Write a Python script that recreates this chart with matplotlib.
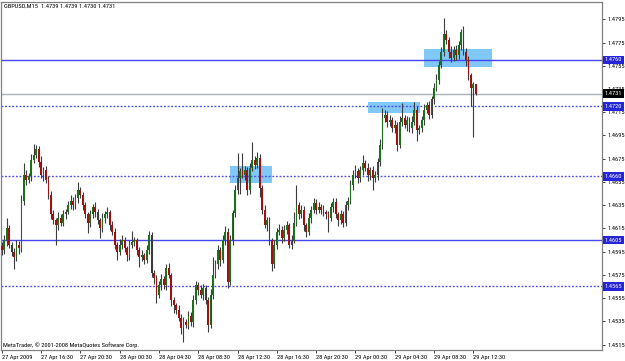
import numpy as np
import matplotlib
matplotlib.use('Agg')
import matplotlib.pyplot as plt
from matplotlib.patches import Rectangle
import matplotlib.transforms as mtransforms
from matplotlib import font_manager as fm

# ---------------- data (prices as pips above 1.4500) ----------------
BASE = 1.4500
open_pips = [
    100, 96, 105, 115, 101, 95, 90, 101, 98, 139,
    161, 157, 160, 174, 178, 183, 172, 161, 165, 157,
    144, 127, 122, 118, 124, 120, 127, 129, 135, 139,
    135, 141, 148, 144, 135, 127, 120, 127, 133, 129,
    122, 115, 124, 127, 129, 118, 112, 101, 95, 101,
    105, 98, 92, 101, 103, 105, 96, 90, 92, 88,
    96, 109, 77, 72, 58, 66, 71, 66, 81, 75,
    53, 49, 45, 38, 29, 34, 32, 40, 34, 53,
    66, 62, 58, 64, 53, 32, 58, 75, 84, 96,
    88, 105, 112, 69, 105, 128, 148, 158, 164, 161,
    165, 148, 167, 174, 170, 176, 150, 131, 118, 122,
    105, 84, 101, 112, 114, 107, 114, 118, 101, 105,
    120, 135, 127, 131, 118, 112, 124, 131, 137, 131,
    133, 131, 129, 127, 124, 133, 138, 127, 122, 127,
    120, 135, 139, 152, 161, 164, 158, 165, 171, 167,
    161, 165, 158, 161, 172, 187, 210, 213, 207, 208,
    201, 204, 187, 207, 210, 204, 208, 201, 207, 217,
    200, 201, 208, 217, 221, 213, 226, 236, 243, 256,
    267, 282, 277, 267, 262, 269, 264, 273, 284, 267,
    260, 247, 236, 239,
]
close_pips = [
    96, 105, 115, 101, 95, 90, 101, 98, 139, 161,
    157, 160, 174, 178, 183, 172, 161, 165, 157, 144,
    127, 122, 118, 124, 120, 127, 129, 135, 139, 135,
    141, 148, 144, 135, 127, 120, 127, 133, 129, 122,
    115, 124, 127, 129, 118, 112, 101, 95, 101, 105,
    98, 92, 101, 103, 105, 96, 90, 92, 88, 96,
    109, 77, 72, 58, 66, 71, 66, 81, 75, 53,
    49, 45, 38, 29, 34, 32, 40, 34, 53, 66,
    62, 58, 64, 53, 32, 58, 75, 84, 96, 88,
    105, 112, 69, 105, 128, 148, 158, 164, 161, 165,
    148, 167, 174, 170, 176, 150, 131, 118, 122, 105,
    84, 101, 112, 114, 107, 114, 118, 101, 105, 120,
    135, 127, 131, 118, 112, 124, 131, 137, 131, 133,
    131, 129, 127, 124, 133, 138, 127, 122, 127, 120,
    135, 139, 152, 161, 164, 158, 165, 171, 167, 161,
    165, 158, 161, 172, 187, 210, 213, 207, 208, 201,
    204, 187, 207, 210, 204, 208, 201, 207, 217, 200,
    201, 208, 217, 221, 213, 226, 236, 243, 256, 267,
    282, 277, 267, 262, 269, 264, 273, 284, 267, 260,
    247, 236, 239, 231,
]
upper_wick_pips = [
    3, 4, 9, 3, 2, 3, 4, 3, 5, 10,
    4, 3, 5, 10, 4, 3, 5, 3, 4, 3,
    3, 4, 2, 5, 3, 4, 3, 4, 5, 3,
    4, 7, 3, 2, 3, 2, 4, 3, 5, 3,
    2, 4, 3, 4, 2, 3, 3, 2, 5, 4,
    3, 2, 4, 10, 3, 2, 3, 4, 2, 5,
    4, 3, 2, 3, 4, 5, 3, 3, 4, 2,
    3, 2, 4, 3, 5, 3, 4, 3, 5, 4,
    3, 4, 3, 2, 3, 5, 15, 4, 5, 3,
    4, 5, 3, 4, 3, 4, 22, 3, 16, 4,
    3, 4, 15, 3, 5, 3, 2, 4, 3, 3,
    2, 4, 3, 5, 3, 4, 3, 2, 4, 9,
    17, 3, 4, 3, 2, 4, 3, 4, 3, 5,
    3, 4, 2, 3, 4, 3, 3, 2, 4, 3,
    4, 3, 5, 4, 6, 3, 4, 7, 3, 4,
    3, 4, 3, 4, 5, 9, 4, 3, 5, 3,
    4, 3, 5, 13, 3, 4, 3, 5, 7, 3,
    3, 4, 5, 3, 4, 3, 4, 5, 3, 4,
    14, 4, 3, 5, 3, 4, 3, 3, 5, 3,
    3, 2, 2, 0,
]
lower_wick_pips = [
    4, 3, 5, 3, 4, 10, 3, 5, 3, 4,
    5, 3, 4, 3, 2, 4, 3, 5, 3, 4,
    4, 3, 17, 4, 3, 3, 4, 2, 3, 4,
    3, 4, 3, 4, 3, 9, 4, 3, 4, 3,
    8, 3, 4, 3, 4, 3, 4, 7, 3, 4,
    3, 5, 4, 3, 3, 4, 8, 3, 4, 3,
    3, 4, 5, 7, 3, 4, 3, 4, 3, 5,
    7, 4, 3, 5, 12, 3, 4, 3, 4, 3,
    4, 3, 5, 3, 6, 3, 4, 3, 4, 5,
    3, 4, 5, 3, 4, 3, 3, 13, 3, 4,
    4, 3, 3, 4, 3, 8, 4, 3, 5, 4,
    6, 3, 4, 3, 5, 3, 4, 3, 4, 3,
    3, 4, 3, 5, 4, 3, 4, 3, 4, 3,
    4, 3, 4, 12, 3, 4, 3, 5, 3, 4,
    3, 4, 3, 4, 3, 4, 3, 4, 3, 5,
    4, 10, 3, 4, 3, 4, 3, 5, 4, 3,
    4, 5, 3, 4, 3, 5, 3, 4, 3, 10,
    4, 3, 4, 3, 4, 3, 4, 3, 4, 3,
    4, 3, 5, 4, 3, 4, 3, 4, 3, 5,
    4, 16, 42, 1,
]

time_labels = ["27 Apr 2009", "27 Apr 16:30", "27 Apr 20:30", "28 Apr 00:30",
               "28 Apr 04:30", "28 Apr 08:30", "28 Apr 12:30", "28 Apr 16:30",
               "28 Apr 20:30", "29 Apr 00:30", "29 Apr 04:30", "29 Apr 08:30",
               "29 Apr 12:30"]
time_label_bars = [0, 16, 32, 48, 64, 80, 96, 112, 128, 144, 160, 176, 192]
price_ticks = [1.4795, 1.4775, 1.4755, 1.4735, 1.4715, 1.4695, 1.4675, 1.4655,
               1.4635, 1.4615, 1.4595, 1.4575, 1.4555, 1.4535, 1.4515]
solid_levels = [1.4760, 1.4605]
dotted_levels = [1.4720, 1.4660, 1.4565]
last_price = 1.4731
# zones: (start bar, end bar, low price, high price)
zones = [(93.0, 110.0, 1.4654, 1.4669),
         (149.0, 170.4, 1.47144, 1.47238),
         (172.0, 199.6, 1.4754, 1.47695)]
header = "GBPUSD,M15  1.4739 1.4739 1.4730 1.4731"
footer = "MetaTrader, \u00a9 2001-2008 MetaQuotes Software Corp."

# ---------------- font choice (narrow face if available) ----------------
def pick_font():
    prefs = [('LiberationSansNarrow-Regular', 4.7),
             ('RobotoCondensed-Regular', 4.6),
             ('DejaVuSansCondensed.ttf', 4.2),
             ('NotoSans-Condensed.ttf', 4.6),
             ('OpenSans_Condensed-Regular', 4.6)]
    files = [f.fname for f in fm.fontManager.ttflist]
    for key, size in prefs:
        for fn in files:
            if key.lower() in fn.lower():
                return fm.FontProperties(fname=fn, size=size), size
    return fm.FontProperties(family='DejaVu Sans', size=3.75), 3.75

FP, FS = pick_font()

def fprop():
    return FP.copy()

# ---------------- derived ----------------
o = BASE + np.array(open_pips) / 1e4
c = BASE + np.array(close_pips) / 1e4
h = np.maximum(o, c) + np.array(upper_wick_pips) / 1e4
l = np.minimum(o, c) - np.array(lower_wick_pips) / 1e4
x = np.arange(len(o))

fig = plt.figure(figsize=(6.25, 3.61), dpi=100)
fig.patch.set_facecolor('white')
ax = fig.add_axes([1 / 625, 11 / 361, 601 / 625, 348 / 361])
ax.set_facecolor('white')

ax.set_xlim(-0.3, 244.4)
ax.set_ylim(1.45103, 1.48099)

for (x0, x1, y0, y1) in zones:
    ax.add_patch(Rectangle((x0, y0), x1 - x0, y1 - y0, facecolor='#80c8f8',
                           edgecolor='none', zorder=1))

for lv in solid_levels:
    ax.axhline(lv, color='#4646f0', lw=1.0, zorder=2)
for lv in dotted_levels:
    ax.axhline(lv, color='#4a4af0', lw=1.0, ls=(0, (1.3, 1.3)), zorder=2)
ax.axhline(last_price, color='#a8b2ba', lw=1.0, zorder=2)

ax.vlines(x, l, h, color='#3c3c3c', lw=0.8, zorder=3)
body = c - o
height = np.where(np.abs(body) < 0.00004, 0.00006, body)
up = c >= o
ax.bar(x[up], height[up], bottom=o[up], width=0.72, color='#1d6e1f',
       linewidth=0, zorder=4)
ax.bar(x[~up], height[~up], bottom=o[~up], width=0.72, color='#a01010',
       linewidth=0, zorder=4)

for s in ax.spines.values():
    s.set_color('#808080')
    s.set_linewidth(0.9)

ax.yaxis.tick_right()
ax.set_yticks(price_ticks)
ax.set_yticklabels([f"{v:.4f}" for v in price_ticks])
ax.tick_params(axis='y', length=2.5, width=0.7, color='#404040', pad=1.5)
ax.set_xticks(time_label_bars)
ax.set_xticklabels(time_labels)
ax.tick_params(axis='x', length=2.5, width=0.7, color='#404040', pad=0.8)
for lbl in ax.get_xticklabels():
    lbl.set_fontproperties(fprop())
    lbl.set_ha('left')
for lbl in ax.get_yticklabels():
    lbl.set_fontproperties(fprop())

trans = mtransforms.blended_transform_factory(ax.transAxes, ax.transData)
for lv in solid_levels + dotted_levels:
    ax.text(1.0045, lv, f"{lv:.4f}", transform=trans, ha='left', va='center',
            fontproperties=fprop(), color='white', zorder=10, clip_on=False,
            bbox=dict(boxstyle='square,pad=0.3', facecolor='#2424d8',
                      edgecolor='none'))
ax.text(1.0045, last_price, f"{last_price:.4f}", transform=trans, ha='left',
        va='center', fontproperties=fprop(), color='white', zorder=10,
        clip_on=False,
        bbox=dict(boxstyle='square,pad=0.3', facecolor='black',
                  edgecolor='none'))

fig.text(4 / 625, 1 - 6.5 / 361, header, fontproperties=fprop(),
         color='black', ha='left', va='center')
fig.text(3 / 625, 1 - 345 / 361, footer, fontproperties=fprop(),
         color='black', ha='left', va='center')

fig.savefig('out.png', dpi=100, facecolor='white')
